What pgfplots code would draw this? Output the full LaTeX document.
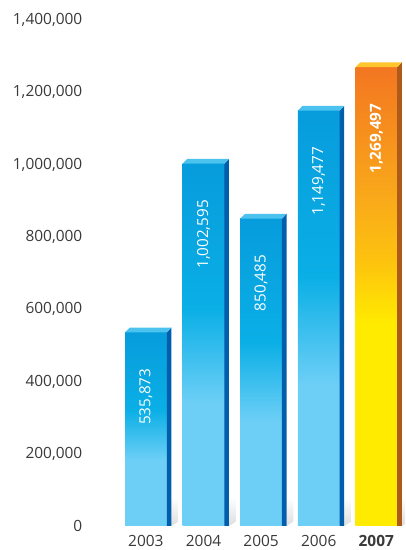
\documentclass[border=0pt]{standalone}
\usepackage{pgfplots}
\pgfplotsset{compat=1.18}
\usepackage{pgfplotstable}
\usepackage{fontspec}
\setmainfont{Open Sans}

\definecolor{ticktext}{HTML}{3A3A3A}
\definecolor{bluetop}{HTML}{079CDC}
\definecolor{bluemid}{HTML}{0AAFE6}
\definecolor{bluelow}{HTML}{6DCFF6}
\definecolor{blueside}{HTML}{005EAD}
\definecolor{bluecap}{HTML}{4CC2EF}
\definecolor{orgtop}{HTML}{F37621}
\definecolor{orgmid}{HTML}{F9A81A}
\definecolor{gold}{HTML}{FDC20E}
\definecolor{yel}{HTML}{FFEB00}
\definecolor{orgside}{HTML}{AD5A1B}
\definecolor{orgcap}{HTML}{FFC52C}

% gradients of the front faces (visible part runs from 25bp to 75bp)
\pgfdeclareverticalshading{bluebar}{100bp}{color(0bp)=(bluelow); color(42bp)=(bluelow); color(55bp)=(bluemid); color(75bp)=(bluetop); color(100bp)=(bluetop)}
\pgfdeclareverticalshading{orangebar}{100bp}{color(0bp)=(yel); color(47bp)=(yel); color(54bp)=(gold); color(61bp)=(orgmid); color(75bp)=(orgtop); color(100bp)=(orgtop)}
\pgfdeclareverticalshading{floorshade}{100bp}{color(0bp)=(black!13); color(25bp)=(black!13); color(75bp)=(white); color(100bp)=(white)}

\pgfplotstableread{
idx year value
0 2003 535873
1 2004 1002595
2 2005 850485
3 2006 1149477
4 2007 1269497
}\salesdata

\tikzset{
  valuelabel/.style={text=white, font=\fontsize{15.3}{18}\selectfont, yshift=-33bp, rotate=90, anchor=east},
  valuelabel bold/.style={valuelabel, font=\fontsize{15.3}{18}\selectfont\bfseries},
}
\pgfplotsset{
  front std/.style={ybar, bar width=0.724, draw=none, shade, shading=bluebar,
    nodes near coords, nodes near coords style={valuelabel}},
  front hl/.style={ybar, bar width=0.724, draw=none, shade, shading=orangebar,
    nodes near coords, nodes near coords style={valuelabel bold}},
  side std/.style={fill=blueside, draw=none},
  side hl/.style={fill=orgside, draw=none},
  cap std/.style={fill=bluecap, draw=none},
  cap hl/.style={fill=orgcap, draw=none},
  floorshadow/.style={draw=none, shade, shading=floorshade},
}

\begin{document}
\begin{tikzpicture}
\begin{axis}[
  name=ax,
  scale only axis,
  width=316.8bp, height=506bp,
  xmin=-1.0, xmax=4.5,
  ymin=0, ymax=1400000,
  axis line style={draw=none},
  tick style={draw=none},
  xtick={0,...,4},
  xticklabels={2003,2004,2005,2006,\textbf{2007}},
  ytick={0,200000,...,1400000},
  scaled y ticks=false,
  /pgf/number format/.cd, fixed, precision=0, 1000 sep={,}, assume math mode=true,
  /pgfplots/.cd,
  tick label style={font=\fontsize{15.5}{18}\selectfont, text=ticktext},
  xticklabel style={yshift=-6bp},
  yticklabel style={xshift=-2.5bp},
]
\pgfplotsinvokeforeach{0,...,4}{
  \pgfplotstablegetelem{#1}{value}\of\salesdata
  \let\val\pgfplotsretval
  \begingroup
  \pgfkeys{/pgf/fpu=true,/pgf/fpu/output format=fixed}
  \pgfmathparse{\val+13000}\xdef\valtop{\pgfmathresult}
  \pgfmathparse{#1+0.362}\xdef\xr{\pgfmathresult}
  \pgfmathparse{#1+0.442}\xdef\xrd{\pgfmathresult}
  \pgfmathparse{#1-0.362}\xdef\xl{\pgfmathresult}
  \pgfmathparse{#1-0.282}\xdef\xld{\pgfmathresult}
  \pgfmathparse{#1+0.56}\xdef\xsh{\pgfmathresult}
  \endgroup
  \ifnum#1=4 \def\kind{hl}\else\def\kind{std}\fi
  \edef\drawbar{%
    \noexpand\addplot[floorshadow] coordinates {(\xrd,0) (\xsh,12000) (\xsh,80000) (\xrd,80000)};
    \noexpand\addplot[front \kind] coordinates {(#1,\val)};
    \noexpand\addplot[side \kind] coordinates {(\xr,0) (\xrd,0) (\xrd,\valtop) (\xr,\val)};
    \noexpand\addplot[cap \kind] coordinates {(\xl,\val) (\xr,\val) (\xrd,\valtop) (\xld,\valtop)};
  }\drawbar
}
\end{axis}
\pgfresetboundingbox
\path[use as bounding box] ([xshift=-88.3bp, yshift=-24bp]ax.south west) rectangle ([yshift=20bp]ax.north east);
\end{tikzpicture}
\end{document}
